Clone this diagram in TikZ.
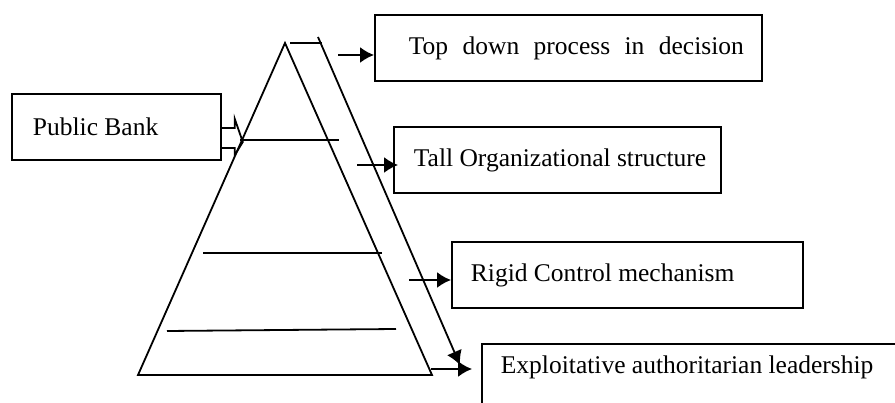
\documentclass[tikz,border=0pt]{standalone}
\usepackage{fontspec}
\setmainfont{Liberation Serif}
\usetikzlibrary{arrows.meta}
\tikzset{
  box/.style={draw, line width=1.8pt, minimum height=66pt,
    font=\fontsize{25.5}{30}\selectfont},
  arr/.style={line width=1.8pt, -{Latex[length=14pt,width=16pt]}}
}
\begin{document}
\begin{tikzpicture}[x=1pt, y=-1pt, line width=1.8pt]
  \useasboundingbox (0,0) rectangle (895,403);
  \clip (0,0) rectangle (895,403);

  \coordinate (apex) at (285,43);
  \coordinate (bl) at (138,375);
  \coordinate (br) at (432,375);
  \coordinate (s1) at (338,55);
  \coordinate (s2) at (357,165);
  \coordinate (s3) at (409,280);
  \coordinate (s4) at (431,369);
  \coordinate (lt) at (318,37);
  \coordinate (lb) at (460,365);

  \node[box, anchor=west, inner xsep=21pt] (pb) at (11,127) {\makebox[167pt][l]{Public Bank}};
  \node[box, anchor=west, inner xsep=34pt] (top) at (374,48)
    {\makebox[335pt][l]{Top\hfill down\hfill process\hfill in\hfill decision}\hspace*{-16pt}};
  \node[box, anchor=west, inner xsep=20pt] (tall) at (393,160) {\makebox[287pt][l]{Tall Organizational structure}};
  \node[box, anchor=west, inner xsep=19pt] (rigid) at (451,275) {\makebox[313pt][l]{Rigid Control mechanism}};
  \node[box, anchor=north west, inner xsep=19pt, inner ysep=0pt,
    text height=30pt, text depth=60pt] (lead) at (481,343) {\makebox[420pt][l]{Exploitative authoritarian leadership}};

  % pyramid
  \draw (apex) -- (bl) -- (br) -- cycle;
  \draw (240,140) -- (339,140);
  \draw (203,253) -- (382,253);
  \draw (167,331) -- (396,329);
  \draw (290,43) -- (322,43);

  % arrows
  \draw[arr] (lt) -- (lb);
  \draw[arr] (s1) -- (s1 -| top.west);
  \draw[arr] (s2) -- ([xshift=5pt]s2 -| tall.west);
  \draw[arr] (s3) -- (s3 -| rigid.west);
  \draw[arr, shorten >=9pt] (s4) -- (s4 -| lead.west);
  \draw ([yshift=-1pt]pb.east) -- ++(13,0) -- ++(0,-9) -- ++(8,23) -- ++(-8,13) -- ++(0,-7) -- ++(-13,0);
\end{tikzpicture}
\end{document}
